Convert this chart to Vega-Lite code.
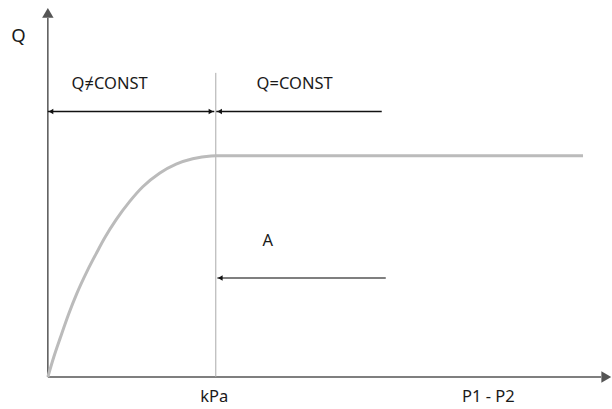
{
  "$schema": "https://vega.github.io/schema/vega-lite/v6.json",
  "width": 612,
  "height": 409,
  "autosize": {"type": "fit", "contains": "padding"},
  "padding": 0,
  "background": "white",
  "config": {"view": {"stroke": null}, "font": "Noto Sans"},
  "encoding": {
    "x": {"field": "x", "type": "quantitative", "scale": {"domain": [-28.571, 335.714], "nice": false, "zero": false}, "axis": null},
    "y": {"field": "y", "type": "quantitative", "scale": {"domain": [-14.414, 169.82], "nice": false, "zero": false}, "axis": null}
  },
  "layer": [
    {
      "data": {"values": [
        {"x": 0, "y": 0, "x2": 0, "y2": 161.7, "part": "Q axis"},
        {"x": 0, "y": 0, "x2": 330.4, "y2": 0, "part": "P1 - P2 axis"}
      ]},
      "mark": {"type": "rule", "color": "#555555", "strokeWidth": 1.5},
      "encoding": {"x2": {"field": "x2"}, "y2": {"field": "y2"}}
    },
    {
      "data": {"values": [
        {"x": 0, "y": 164.0, "shape": "triangle-up"},
        {"x": 333.5, "y": 0, "shape": "triangle-right"}
      ]},
      "mark": {"type": "point", "filled": true, "color": "#555555", "size": 130, "opacity": 1},
      "encoding": {"shape": {"field": "shape", "type": "nominal", "scale": null}}
    },
    {
      "data": {"values": [
        {"x": 100.3, "y": 0, "x2": 100.3, "y2": 137}
      ]},
      "mark": {"type": "rule", "color": "#aaaaaa", "strokeWidth": 1},
      "encoding": {"x2": {"field": "x2"}, "y2": {"field": "y2"}}
    },
    {
      "data": {"values": [
        {"x": 0, "y": 0},
        {"x": 3.6, "y": 9.1},
        {"x": 7.6, "y": 18.0},
        {"x": 12.5, "y": 28.5},
        {"x": 17.4, "y": 37.8},
        {"x": 23.4, "y": 47.6},
        {"x": 29.3, "y": 56.2},
        {"x": 33.9, "y": 62.6},
        {"x": 40.9, "y": 71.0},
        {"x": 48.8, "y": 79.0},
        {"x": 56.7, "y": 85.7},
        {"x": 66.7, "y": 91.8},
        {"x": 76.6, "y": 95.9},
        {"x": 86.5, "y": 98.3},
        {"x": 97.4, "y": 99.6},
        {"x": 100.4, "y": 99.7},
        {"x": 319.6, "y": 99.7}
      ]},
      "mark": {"type": "line", "color": "#bbbbbb", "strokeWidth": 3, "interpolate": "monotone"}
    },
    {
      "data": {"values": [
        {"x": 0, "y": 119.6, "x2": 99.4, "y2": 119.6, "c": "#111111"},
        {"x": 100.6, "y": 119.6, "x2": 199.4, "y2": 119.6, "c": "#111111"},
        {"x": 101.2, "y": 44.6, "x2": 201.8, "y2": 44.6, "c": "#555555"}
      ]},
      "mark": {"type": "rule", "strokeWidth": 1.3},
      "encoding": {"x2": {"field": "x2"}, "y2": {"field": "y2"}, "color": {"field": "c", "type": "nominal", "scale": null}}
    },
    {
      "data": {"values": [
        {"x": 1.9, "y": 119.6, "shape": "triangle-left", "c": "#111111"},
        {"x": 97.4, "y": 119.6, "shape": "triangle-right", "c": "#111111"},
        {"x": 102.6, "y": 119.6, "shape": "triangle-left", "c": "#111111"},
        {"x": 103.0, "y": 44.6, "shape": "triangle-left", "c": "#111111"}
      ]},
      "mark": {"type": "point", "filled": true, "size": 28, "opacity": 1},
      "encoding": {
        "shape": {"field": "shape", "type": "nominal", "scale": null},
        "color": {"field": "c", "type": "nominal", "scale": null}
      }
    },
    {
      "data": {"values": [
        {"x": -17.6, "y": 153.6, "label": "Q", "fs": 18.5},
        {"x": 36.9, "y": 131.8, "label": "Q≠CONST", "fs": 16.5},
        {"x": 147.4, "y": 131.8, "label": "Q=CONST", "fs": 16.5},
        {"x": 131.4, "y": 61.3, "label": "A", "fs": 16.5},
        {"x": 99.4, "y": -9, "label": "kPa", "fs": 16.5},
        {"x": 263.1, "y": -9, "label": "P1 - P2", "fs": 16.5}
      ]},
      "mark": {"type": "text", "align": "center", "baseline": "middle", "color": "#1a1a1a"},
      "encoding": {
        "text": {"field": "label"},
        "size": {"field": "fs", "type": "quantitative", "scale": null}
      }
    }
  ]
}
